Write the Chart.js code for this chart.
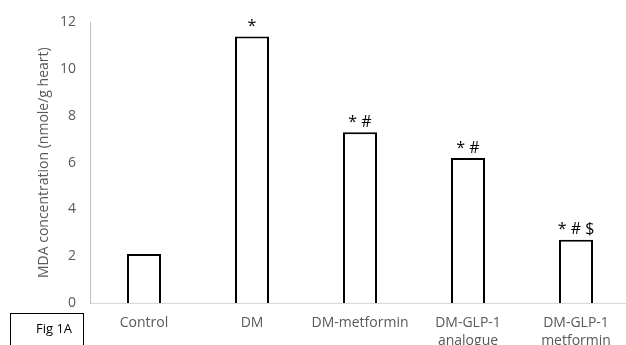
<!DOCTYPE html>
<html><head><meta charset="utf-8">
<script src="https://cdn.jsdelivr.net/npm/chart.js@4/dist/chart.umd.min.js"></script>
<style>
html,body{margin:0;padding:0;background:#fff;overflow:hidden;width:626px;height:345px;}
#wrap{position:relative;width:640px;height:345px;}
#figbox{position:absolute;left:10px;top:313px;width:74px;height:40px;border:1px solid #000;box-sizing:border-box;font:13px "Open Sans",sans-serif;color:#000;}
#figbox span{position:absolute;left:25px;top:5px;}
</style></head>
<body>
<div id="wrap"><canvas id="c" width="640" height="345"></canvas>
<div id="figbox"><span>Fig 1A</span></div></div>
<script>
const categories = ["Control", "DM", "DM-metformin", ["DM-GLP-1","analogue"], ["DM-GLP-1","metformin"]];
const mdaValues = [2.1, 11.4, 7.3, 6.2, 2.7];
const significance = ["", "*", "* #", "* #", "* # $"];
const yTicks = {min: 0, max: 12, step: 2};

const annot = {
  id: 'annot',
  afterDatasetsDraw(chart) {
    const ctx = chart.ctx;
    const meta = chart.getDatasetMeta(0);
    ctx.save();
    ctx.font = '16px "Open Sans", sans-serif';
    ctx.fillStyle = '#000';
    ctx.textAlign = 'center';
    ctx.textBaseline = 'bottom';
    meta.data.forEach((bar, i) => {
      if (significance[i]) ctx.fillText(significance[i], bar.x, bar.y - 2);
    });
    ctx.restore();
  }
};

new Chart(document.getElementById('c'), {
  type: 'bar',
  data: {
    labels: categories,
    datasets: [{
      data: mdaValues,
      backgroundColor: '#fff',
      borderColor: '#000',
      borderWidth: 2,
      barPercentage: 0.315,
      categoryPercentage: 1.0
    }]
  },
  options: {
    responsive: false,
    animation: false,
    layout: {padding: {top: 17, right: 10, left: 36, bottom: 0}},
    plugins: {legend: {display: false}, tooltip: {enabled: false}},
    scales: {
      x: {
        grid: {display: false, drawTicks: false},
        border: {color: '#d9d9d9', width: 1},
        ticks: {color: '#595959', font: {family: '"Open Sans", sans-serif', size: 14, lineHeight: 1.3}, padding: 11, maxRotation: 0, autoSkip: false},
        afterFit(s) { s.height = 42; }
      },
      y: {
        min: yTicks.min, max: yTicks.max,
        grid: {display: false, drawTicks: false},
        border: {color: '#bfbfbf', width: 1},
        ticks: {stepSize: yTicks.step, color: '#595959', font: {family: '"Open Sans", sans-serif', size: 14}, padding: 14},
        title: {display: true, text: 'MDA concentration (nmole/g heart)', color: '#595959', font: {family: '"Open Sans", sans-serif', size: 14}, padding: 0},
        afterFit(s) { s.width = 54; }
      }
    }
  },
  plugins: [annot]
});
</script>
</body></html>
